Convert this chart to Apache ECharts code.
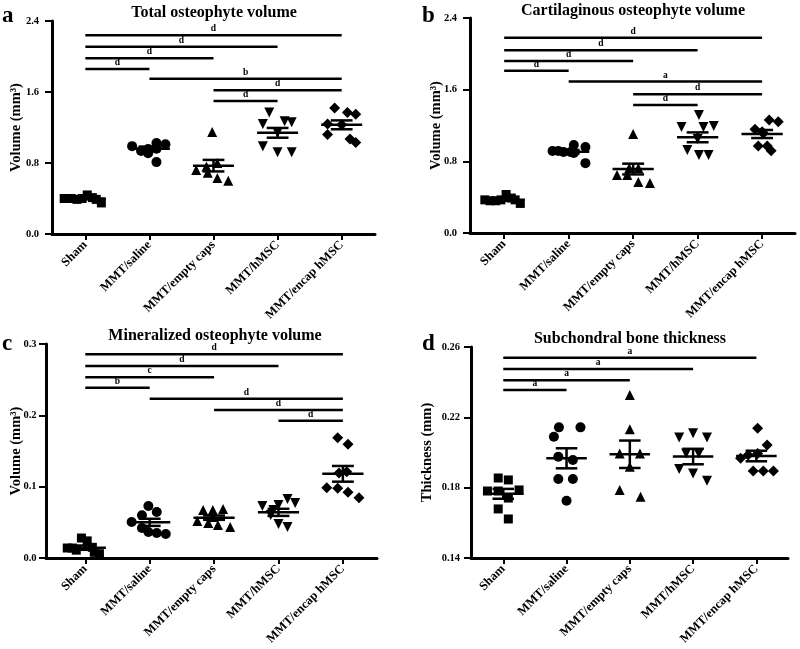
<!DOCTYPE html>
<html><head><meta charset="utf-8">
<script src="https://cdn.jsdelivr.net/npm/echarts@6/dist/echarts.min.js"></script>
<style>html,body{margin:0;padding:0;background:#fff}#c{width:800px;height:649px}</style>
</head><body><div id="c"></div>
<script>
// ---------- data ----------
const categories = ['Sham', 'MMT/saline', 'MMT/empty caps', 'MMT/hMSC', 'MMT/encap hMSC'];
const panelTitles = ['Total osteophyte volume', 'Cartilaginous osteophyte volume', 'Mineralized osteophyte volume', 'Subchondral bone thickness'];
const panelLetters = ['a', 'b', 'c', 'd'];
const yAxisNames = ['Volume (mm³)', 'Volume (mm³)', 'Volume (mm³)', 'Thickness (mm)'];
const yTicksTotal = [0, 0.8, 1.6, 2.4];
const yTicksCart = [0, 0.8, 1.6, 2.4];
const yTicksMin = [0, 0.1, 0.2, 0.3];
const yTicksThick = [0.14, 0.18, 0.22, 0.26];

const totalValues = [
  [0.40, 0.40, 0.39, 0.40, 0.44, 0.41, 0.39, 0.35],
  [0.99, 0.935, 0.958, 0.91, 1.025, 0.81, 1.01, 0.96],
  [1.15, 0.72, 0.76, 0.80, 0.69, 0.63, 0.60],
  [1.37, 1.24, 1.27, 1.26, 0.99, 0.92, 0.92, 1.14],
  [1.42, 1.37, 1.35, 1.24, 1.23, 1.12, 1.07, 1.03]
];
const totalJitter = [
  [-0.33, -0.22, -0.13, -0.05, 0.03, 0.11, 0.17, 0.25],
  [-0.27, -0.13, -0.02, -0.02, 0.11, 0.11, 0.25, 0.11],
  [-0.02, -0.27, -0.11, 0.06, -0.09, 0.06, 0.23],
  [-0.13, -0.23, 0.11, 0.22, -0.23, 0, 0.22, 0],
  [-0.11, 0.09, 0.22, -0.22, 0, -0.22, 0.13, 0.22]
];
const totalMean = [0.40, 0.96, 0.77, 1.14, 1.23];
const totalSem = [0.01, 0.025, 0.065, 0.055, 0.05];
const totalBrackets = [[0, 4, 2.24, 'd'], [0, 3, 2.11, 'd'], [0, 2, 1.98, 'd'], [0, 1, 1.86, 'd'], [1, 4, 1.75, 'b'], [2, 4, 1.62, 'd'], [2, 3, 1.50, 'd']];

const cartValues = [
  [0.37, 0.36, 0.36, 0.37, 0.43, 0.39, 0.37, 0.33],
  [0.915, 0.904, 0.982, 0.893, 0.96, 0.78, 0.915, 0.904],
  [1.105, 0.647, 0.647, 0.726, 0.726, 0.569, 0.558],
  [1.317, 1.183, 1.183, 1.194, 0.927, 0.871, 0.871, 1.05],
  [1.157, 1.113, 1.261, 1.242, 0.971, 0.971, 0.919, 1.13]
];
const cartJitter = [
  [-0.3, -0.22, -0.13, -0.05, 0.03, 0.11, 0.17, 0.25],
  [-0.25, -0.08, 0.08, 0.08, 0.26, 0.26, -0.16, 0.03],
  [0, -0.25, -0.09, 0.08, -0.06, 0.08, 0.26],
  [0.02, -0.25, 0.09, 0.25, -0.16, 0.02, 0.17, 0],
  [-0.11, 0.02, 0.11, 0.25, -0.06, 0.08, 0.14, 0]
];
const cartMean = [0.37, 0.907, 0.714, 1.068, 1.105];
const cartSem = [0.01, 0.02, 0.06, 0.055, 0.045];
const cartBrackets = [[0, 4, 2.18, 'd'], [0, 3, 2.04, 'd'], [0, 2, 1.92, 'd'], [0, 1, 1.81, 'd'], [1, 4, 1.69, 'a'], [2, 4, 1.55, 'd'], [2, 3, 1.43, 'd']];

const minValues = [
  [0.014, 0.014, 0.011, 0.028, 0.024, 0.015, 0.008, 0.006],
  [0.0505, 0.060, 0.073, 0.0645, 0.042, 0.0365, 0.035, 0.0336],
  [0.0673, 0.0673, 0.0687, 0.0519, 0.049, 0.0463, 0.0435, 0.0575],
  [0.0729, 0.0743, 0.0827, 0.0771, 0.0603, 0.0477, 0.0435, 0.0673],
  [0.1687, 0.1594, 0.121, 0.119, 0.0986, 0.0977, 0.092, 0.0845]
];
const minJitter = [
  [-0.28, -0.2, -0.14, -0.06, 0.03, 0.11, 0.14, 0.22],
  [-0.28, -0.12, -0.02, 0.11, -0.12, -0.02, 0.11, 0.25],
  [-0.17, -0.02, 0.14, -0.26, -0.09, 0.06, 0.25, -0.02],
  [-0.25, 0, 0.14, 0.26, -0.12, 0, 0.14, -0.08],
  [-0.08, 0.08, 0.06, -0.06, -0.25, -0.08, 0.08, 0.25]
];
const minMean = [0.0145, 0.050, 0.0565, 0.064, 0.118];
const minSem = [0.003, 0.005, 0.003, 0.005, 0.011];
const minBrackets = [[0, 4, 0.2856, 'd'], [0, 3, 0.2692, 'd'], [0, 2, 0.2533, 'c'], [0, 1, 0.2387, 'b'], [1, 4, 0.2233, 'd'], [2, 4, 0.2075, 'd'], [3, 4, 0.1925, 'd']];

const thickValues = [
  [0.1855, 0.1844, 0.1781, 0.1781, 0.1787, 0.1741, 0.1679, 0.1622],
  [0.209, 0.2143, 0.2143, 0.1976, 0.1957, 0.1849, 0.1849, 0.1726],
  [0.2327, 0.2132, 0.1995, 0.1995, 0.1919, 0.1787, 0.1749],
  [0.2086, 0.2109, 0.2086, 0.1995, 0.1995, 0.1906, 0.188, 0.184],
  [0.2138, 0.2043, 0.1967, 0.1986, 0.1995, 0.1895, 0.1895, 0.1895]
];
const thickJitter = [
  [-0.08, 0.08, -0.25, -0.08, 0.25, 0.08, -0.08, 0.08],
  [-0.2, -0.12, 0.22, -0.13, 0.1, -0.13, 0.1, 0],
  [0, 0, -0.16, 0.16, 0, -0.16, 0.17],
  [-0.22, 0, 0.22, -0.11, 0.09, -0.22, 0, 0.22],
  [0.02, 0.17, -0.25, -0.13, 0.02, -0.05, 0.11, 0.27]
];
const thickMean = [0.1765, 0.1967, 0.199, 0.1977, 0.198];
const thickSem = [0.0028, 0.0057, 0.0078, 0.0044, 0.003];
const thickBrackets = [[0, 4, 0.2539, 'a'], [0, 3, 0.2475, 'a'], [0, 2, 0.2411, 'a'], [0, 1, 0.2355, 'a']];

// ---------- layout / style ----------
const FONT = '"Liberation Serif", "Times New Roman", serif';
const groupSymbols = ['rect', 'circle', 'triangle', 'triangle', 'diamond'];
const groupRotate = [0, 0, 0, 180, 0];
const groupSizes = [9, 10, 10, 10, 11];

const panels = [
  { values: totalValues, jitter: totalJitter, mean: totalMean, sem: totalSem, brackets: totalBrackets, yticks: yTicksTotal, dec: 1,
    grid: { left: 52, top: 21, width: 323, height: 213 }, xmin: -0.52, xmax: 4.52, nameGap: 28, labelMargin: 13,
    titlePos: [214, 13], letterPos: [2, 28] },
  { values: cartValues, jitter: cartJitter, mean: cartMean, sem: cartSem, brackets: cartBrackets, yticks: yTicksCart, dec: 1,
    grid: { left: 470, top: 18, width: 325, height: 215 }, xmin: -0.53, xmax: 4.51, nameGap: 26, labelMargin: 13,
    titlePos: [633, 11], letterPos: [422, 28] },
  { values: minValues, jitter: minJitter, mean: minMean, sem: minSem, brackets: minBrackets, yticks: yTicksMin, dec: 1,
    grid: { left: 46, top: 344, width: 331, height: 214 }, xmin: -0.61, xmax: 4.53, nameGap: 22.5, labelMargin: 9.5,
    titlePos: [215, 336], letterPos: [2, 356] },
  { values: thickValues, jitter: thickJitter, mean: thickMean, sem: thickSem, brackets: thickBrackets, yticks: yTicksThick, dec: 2,
    grid: { left: 471, top: 347, width: 317, height: 211 }, xmin: -0.51, xmax: 4.5, nameGap: 36, labelMargin: 11,
    titlePos: [630, 339], letterPos: [422, 356] }
];

function meanRender(means, sems) {
  return function (params, api) {
    const i = params.dataIndex;
    const c = api.coord([i, means[i]]);
    const top = api.coord([i, means[i] + sems[i]]);
    const bot = api.coord([i, means[i] - sems[i]]);
    const wMean = api.size([0.32, 0])[0];
    const wErr = api.size([0.17, 0])[0];
    const st = { stroke: '#000', lineWidth: 2.5 };
    return { type: 'group', children: [
      { type: 'line', shape: { x1: c[0] - wMean, y1: c[1], x2: c[0] + wMean, y2: c[1] }, style: st },
      { type: 'line', shape: { x1: c[0], y1: top[1], x2: c[0], y2: bot[1] }, style: st },
      { type: 'line', shape: { x1: c[0] - wErr, y1: top[1], x2: c[0] + wErr, y2: top[1] }, style: st },
      { type: 'line', shape: { x1: c[0] - wErr, y1: bot[1], x2: c[0] + wErr, y2: bot[1] }, style: st }
    ]};
  };
}
function bracketRender(br) {
  return function (params, api) {
    const b = br[params.dataIndex];
    const p1 = api.coord([b[0], b[2]]);
    const p2 = api.coord([b[1], b[2]]);
    return { type: 'group', children: [
      { type: 'line', shape: { x1: p1[0], y1: p1[1], x2: p2[0], y2: p2[1] }, style: { stroke: '#000', lineWidth: 2.5 } },
      { type: 'text', x: (p1[0] + p2[0]) / 2, y: p1[1] - 1.5,
        style: { text: b[3], fill: '#000', font: 'bold 9.5px ' + FONT, textAlign: 'center', textVerticalAlign: 'bottom' } }
    ]};
  };
}

const grids = [], xAxes = [], yAxes = [], series = [], graphics = [];
const catIdx = [0, 1, 2, 3, 4];
panels.forEach(function (p, k) {
  grids.push(Object.assign({ containLabel: false, outerBoundsMode: 'none' }, p.grid));
  xAxes.push({
    type: 'value', gridIndex: k, min: p.xmin, max: p.xmax,
    splitLine: { show: false },
    axisLine: { show: true, onZero: false, lineStyle: { color: '#000', width: 3 } },
    axisTick: { show: true, customValues: catIdx, length: 6, lineStyle: { color: '#000', width: 2 } },
    axisLabel: { customValues: catIdx, formatter: function (v) { return categories[Math.round(v)]; },
      rotate: 45, margin: 9, color: '#000', fontFamily: FONT, fontWeight: 'bold', fontSize: 12.5 }
  });
  yAxes.push({
    type: 'value', gridIndex: k, min: p.yticks[0], max: p.yticks[p.yticks.length - 1],
    name: yAxisNames[k], nameLocation: 'middle', nameGap: p.nameGap, nameMoveOverlap: false,
    nameTextStyle: { color: '#000', fontFamily: FONT, fontWeight: 'bold', fontSize: 14.5 },
    splitLine: { show: false },
    axisLine: { show: true, onZero: false, lineStyle: { color: '#000', width: 3 } },
    axisTick: { show: true, customValues: p.yticks, length: 7, lineStyle: { color: '#000', width: 2 } },
    axisLabel: { customValues: p.yticks, formatter: function (v) { return Number(v).toFixed(p.dec); },
      margin: p.labelMargin, color: '#000', fontFamily: FONT, fontWeight: 'bold', fontSize: 10.5 }
  });
  p.values.forEach(function (vals, g) {
    series.push({
      type: 'scatter', xAxisIndex: k, yAxisIndex: k,
      symbol: groupSymbols[g], symbolRotate: groupRotate[g], symbolSize: groupSizes[g],
      itemStyle: { color: '#000', opacity: 1 },
      data: vals.map(function (v, j) { return [g + p.jitter[g][j], v]; }),
      z: 2, silent: true
    });
  });
  series.push({
    type: 'custom', xAxisIndex: k, yAxisIndex: k, renderItem: meanRender(p.mean, p.sem),
    data: p.mean.map(function (m, i) { return [i, m]; }), encode: { x: 0, y: 1 }, z: 3, silent: true, clip: false
  });
  series.push({
    type: 'custom', xAxisIndex: k, yAxisIndex: k, renderItem: bracketRender(p.brackets),
    data: p.brackets.map(function (b) { return [b[0], b[1], b[2]]; }), encode: { x: [0, 1], y: 2 }, z: 3, silent: true, clip: false
  });
  graphics.push({ type: 'text', x: p.titlePos[0], y: p.titlePos[1],
    style: { text: panelTitles[k], fill: '#000', font: 'bold 16px ' + FONT, textAlign: 'center', textVerticalAlign: 'middle' } });
  graphics.push({ type: 'text', x: p.letterPos[0], y: p.letterPos[1],
    style: { text: panelLetters[k], fill: '#000', font: 'bold 23px ' + FONT, textAlign: 'left', textVerticalAlign: 'bottom' } });
});

const chart = echarts.init(document.getElementById('c'), null, { renderer: 'canvas' });
chart.setOption({
  animation: false,
  backgroundColor: '#fff',
  grid: grids, xAxis: xAxes, yAxis: yAxes, series: series, graphic: graphics
});
</script>
</body></html>
